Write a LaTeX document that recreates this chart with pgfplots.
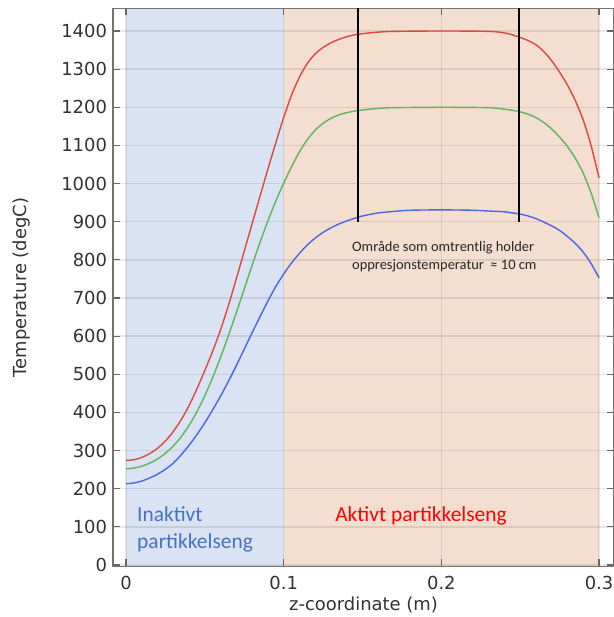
\documentclass[border=0pt]{standalone}
\usepackage{fontspec}
\setmainfont{DejaVu Sans}
\newfontfamily\calib{Carlito}
\usepackage{pgfplots}
\pgfplotsset{compat=1.18}
\definecolor{bgblue}{RGB}{218,227,243}
\definecolor{bgorange}{RGB}{243,222,207}
\definecolor{cred}{RGB}{220,72,62}
\definecolor{cgreen}{RGB}{92,182,92}
\definecolor{cblue}{RGB}{72,102,230}
\definecolor{lblue}{RGB}{68,114,196}
\definecolor{ticktext}{RGB}{50,50,50}
\begin{document}
\begin{tikzpicture}
\begin{axis}[
  set layers,
  scale only axis,
  width=501bp, height=558bp,
  at={(113bp,50.5bp)}, anchor=south west,
  xmin=-0.00825, xmax=0.3095,
  ymin=-4, ymax=1459,
  xtick={0,0.1,0.2,0.3},
  xticklabels={0,0.1,0.2,0.3},
  ytick={0,100,...,1400},
  /pgf/number format/assume math mode=true,
  /pgf/number format/1000 sep={},
  tick label style={font=\fontsize{18}{21}\selectfont, text=ticktext},
  xticklabel style={yshift=-6.5bp},
  yticklabel style={xshift=-2.5bp},
  tick align=inside,
  tick pos=both,
  major tick length=7bp,
  every tick/.style={draw=black!60, line width=1.2bp},
  grid=major,
  major grid style={draw=black, opacity=0.09, line width=1.5bp},
  axis line style={draw=black!55, line width=1.2bp},
  xlabel={z-coordinate (m)},
  ylabel={Temperature (degC)},
  label style={font=\fontsize{18}{21}\selectfont, text=ticktext},
  xlabel style={at={(axis description cs:0.5,-0.078)}, anchor=base},
  ylabel style={at={(axis description cs:-0.1717,0.5)}, anchor=base, rotate=0},
  clip=true,
]
\addplot[fill=bgblue, draw=none, on layer=axis background] coordinates {(0,-4) (0.1,-4) (0.1,1459) (0,1459)} -- cycle;
\addplot[fill=bgorange, draw=none, on layer=axis background] coordinates {(0.1,-4) (0.3,-4) (0.3,1459) (0.1,1459)} -- cycle;

% red
\addplot[cred, line width=1.4bp, smooth] table {
0.000 274
0.005 276
0.010 282
0.015 292
0.020 306
0.025 325
0.030 350
0.035 381
0.040 418
0.045 462
0.050 510
0.055 561
0.060 617
0.065 681
0.070 751
0.075 823
0.080 895
0.085 967
0.090 1038
0.095 1107
0.100 1173
0.105 1232
0.110 1279
0.115 1315
0.120 1340
0.125 1357
0.130 1369
0.135 1378
0.140 1385
0.145 1390
0.150 1393
0.160 1397
0.170 1399
0.200 1400
0.230 1399
0.240 1395
0.245 1390
0.250 1383
0.255 1375
0.260 1364
0.265 1346
0.270 1322
0.275 1292
0.280 1258
0.285 1217
0.290 1166
0.295 1099
0.300 1015
};
% green
\addplot[cgreen, line width=1.4bp, smooth] table {
0.000 252
0.005 254
0.010 259
0.015 267
0.020 278
0.025 293
0.030 312
0.035 336
0.040 366
0.045 402
0.050 444
0.055 492
0.060 545
0.065 602
0.070 662
0.075 724
0.080 786
0.085 846
0.090 902
0.095 954
0.100 1001
0.105 1044
0.110 1083
0.115 1115
0.120 1140
0.125 1158
0.130 1171
0.135 1180
0.140 1186
0.145 1190
0.150 1193
0.160 1197
0.170 1199
0.200 1200
0.230 1199
0.240 1195
0.245 1192
0.250 1188
0.255 1182
0.260 1173
0.265 1160
0.270 1143
0.275 1122
0.280 1097
0.285 1066
0.290 1027
0.295 975
0.300 910
};
% blue
\addplot[cblue, line width=1.4bp, smooth] table {
0.000 213
0.005 215
0.010 220
0.015 228
0.020 238
0.025 251
0.030 267
0.035 289
0.040 314
0.045 342
0.050 373
0.055 407
0.060 443
0.065 482
0.070 523
0.075 566
0.080 609
0.085 651
0.090 692
0.095 730
0.100 763
0.105 792
0.110 817
0.115 839
0.120 857
0.125 872
0.130 884
0.135 894
0.140 902
0.145 909
0.150 915
0.160 923
0.170 927
0.180 930
0.200 931
0.220 930
0.230 928
0.240 926
0.245 923
0.250 920
0.255 915
0.260 908
0.265 899
0.270 889
0.275 877
0.280 861
0.285 843
0.290 820
0.295 790
0.300 753
};
% black marker lines
\addplot[black, line width=2bp] coordinates {(0.147,900) (0.147,1459)};
\addplot[black, line width=2bp] coordinates {(0.249,900) (0.249,1459)};

\node[anchor=west, align=left, inner sep=0pt, font=\calib\fontsize{14.5}{17.5}\selectfont, text=black!85]
  at (axis cs:0.1433,809) {Område som omtrentlig holder\\oppresjonstemperatur~~≈ 10 cm};
\node[anchor=base west, inner sep=0pt, font=\calib\fontsize{21.5}{27}\selectfont, text=lblue]
  at (axis cs:0.0070,113) {Inaktivt};
\node[anchor=base west, inner sep=0pt, font=\calib\fontsize{21.5}{27}\selectfont, text=lblue]
  at (axis cs:0.0070,42) {partikkelseng};
\node[anchor=base west, inner sep=0pt, font=\calib\fontsize{21.5}{27}\selectfont, text=red]
  at (axis cs:0.1326,113) {Aktivt partikkelseng};
\end{axis}
\pgfresetboundingbox
\path (0,0) rectangle (614bp,617bp);
\end{tikzpicture}
\end{document}
